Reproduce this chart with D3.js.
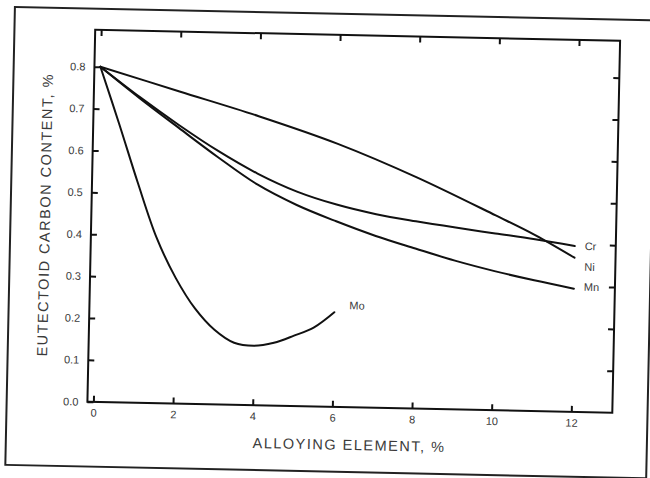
<!DOCTYPE html>
<html>
<head>
<meta charset="utf-8">
<script src="https://cdn.jsdelivr.net/npm/d3@7"></script>
<style>
  html, body { margin: 0; padding: 0; background: #fff; }
  svg { display: block; }
  text { font-family: "Liberation Sans", Arial, sans-serif; }
</style>
</head>
<body>
<div id="chart"></div>
<script>
// ---- data ----
const xTicks = [0, 2, 4, 6, 8, 10, 12];
const xTickLabels = ["0", "2", "4", "6", "8", "10", "12"];
const yTicks = [0, 0.1, 0.2, 0.3, 0.4, 0.5, 0.6, 0.7, 0.8];
const yTickLabels = ["0.0", "0.1", "0.2", "0.3", "0.4", "0.5", "0.6", "0.7", "0.8"];

const niX = [0, 2, 4, 6, 8, 10, 11, 12];
const niY = [0.80, 0.745, 0.69, 0.628, 0.552, 0.465, 0.42, 0.368];

const crX = [0, 1, 2, 3, 4, 5, 6, 7, 8, 9, 10, 11, 12];
const crY = [0.80, 0.73, 0.665, 0.605, 0.553, 0.512, 0.483, 0.462, 0.447, 0.434, 0.422, 0.41, 0.396];

const mnX = [0, 1, 2, 3, 4, 5, 6, 7, 8, 9, 10, 11, 12];
const mnY = [0.80, 0.727, 0.658, 0.59, 0.527, 0.48, 0.443, 0.41, 0.382, 0.355, 0.332, 0.312, 0.294];

const moX = [0, 0.5, 1.0, 1.5, 2.0, 2.5, 3.0, 3.5, 4.0, 4.5, 5.0, 5.5, 6.0];
const moY = [0.80, 0.665, 0.525, 0.395, 0.30, 0.228, 0.178, 0.148, 0.142, 0.150, 0.168, 0.189, 0.226];

const seriesNames = ["Cr", "Ni", "Mn", "Mo"];
const xTitle = "ALLOYING ELEMENT, %";
const yTitle = "EUTECTOID CARBON CONTENT, %";

// ---- layout ----
const W = 650, H = 478;
const plot = { left: 91.25, right: 616.25, top: 35.25, bottom: 407.25 };
const tilt = 1.2; // the scanned page is slightly rotated
const cx = (plot.left + plot.right) / 2, cy = (plot.top + plot.bottom) / 2;

const svg = d3.select("#chart").append("svg")
  .attr("width", W).attr("height", H);
svg.append("rect").attr("width", W).attr("height", H).attr("fill", "#fff");

const root = svg.append("g").attr("transform", `rotate(${tilt},${cx},${cy})`);

// page border
root.append("rect")
  .attr("x", 10.5).attr("y", 14.1).attr("width", 641).attr("height", 458)
  .attr("fill", "none").attr("stroke", "#222").attr("stroke-width", 2);

const x = d3.scaleLinear().domain([-0.15, 13.03]).range([plot.left, plot.right]);
const y = d3.scaleLinear().domain([0, 0.888]).range([plot.bottom, plot.top]);

const ink = "#111";
const textInk = "#3a3a3a";

// plot frame
root.append("rect")
  .attr("x", plot.left).attr("y", plot.top)
  .attr("width", plot.right - plot.left).attr("height", plot.bottom - plot.top)
  .attr("fill", "none").attr("stroke", ink).attr("stroke-width", 2);

function styleAxis(g, showText) {
  g.select(".domain").remove();
  g.selectAll(".tick line").attr("stroke", ink).attr("stroke-width", 2);
  g.selectAll(".tick text")
    .attr("fill", textInk)
    .style("font-size", "11px")
    .style("display", showText ? null : "none");
}

// bottom axis (inward ticks)
root.append("g").attr("transform", `translate(0,${plot.bottom})`)
  .call(d3.axisBottom(x).tickValues(xTicks)
    .tickFormat((d, i) => xTickLabels[i]).tickSizeInner(-6).tickSizeOuter(0).tickPadding(7))
  .call(g => styleAxis(g, true));

// top axis ticks
root.append("g").attr("transform", `translate(0,${plot.top})`)
  .call(d3.axisTop(x).tickValues(xTicks).tickSizeInner(-6).tickSizeOuter(0))
  .call(g => styleAxis(g, false));

// left axis (inward ticks)
root.append("g").attr("transform", `translate(${plot.left},0)`)
  .call(d3.axisLeft(y).tickValues(yTicks)
    .tickFormat((d, i) => yTickLabels[i]).tickSizeInner(-6).tickSizeOuter(0).tickPadding(9))
  .call(g => styleAxis(g, true));

// right axis ticks
root.append("g").attr("transform", `translate(${plot.right},0)`)
  .call(d3.axisRight(y).tickValues(yTicks.filter(d => d > 0)).tickSizeInner(-6).tickSizeOuter(0))
  .call(g => styleAxis(g, false));

// curves
const line = d3.line().x(d => x(d[0])).y(d => y(d[1])).curve(d3.curveCatmullRom.alpha(0.5));
const series = [
  { name: "Ni", xs: niX, ys: niY },
  { name: "Cr", xs: crX, ys: crY },
  { name: "Mn", xs: mnX, ys: mnY },
  { name: "Mo", xs: moX, ys: moY }
];
series.forEach(s => {
  const pts = s.xs.map((v, i) => [v, s.ys[i]]);
  root.append("path").datum(pts)
    .attr("d", line)
    .attr("fill", "none").attr("stroke", ink).attr("stroke-width", 2)
    .attr("stroke-linejoin", "round").attr("stroke-linecap", "round");
});

// series labels (anchored at each curve end)
const labelOffsets = { Cr: [10, 0], Ni: [10, 9], Mn: [10, -2], Mo: [15, -7] };
seriesNames.forEach(n => {
  const s = series.find(d => d.name === n);
  const last = s.xs.length - 1;
  root.append("text")
    .attr("x", x(s.xs[last]) + labelOffsets[n][0])
    .attr("y", y(s.ys[last]) + labelOffsets[n][1])
    .attr("dy", "0.35em")
    .attr("fill", textInk)
    .style("font-size", "11px")
    .text(n);
});

// axis titles
root.append("text")
  .attr("x", cx).attr("y", 450)
  .attr("text-anchor", "middle")
  .attr("fill", textInk)
  .style("font-size", "14.5px").style("letter-spacing", "1.5px")
  .text(xTitle);

root.append("text")
  .attr("transform", `translate(50,${cy}) rotate(-90)`)
  .attr("text-anchor", "middle")
  .attr("fill", textInk)
  .style("font-size", "14.5px").style("letter-spacing", "1.5px")
  .text(yTitle);
</script>
</body>
</html>
